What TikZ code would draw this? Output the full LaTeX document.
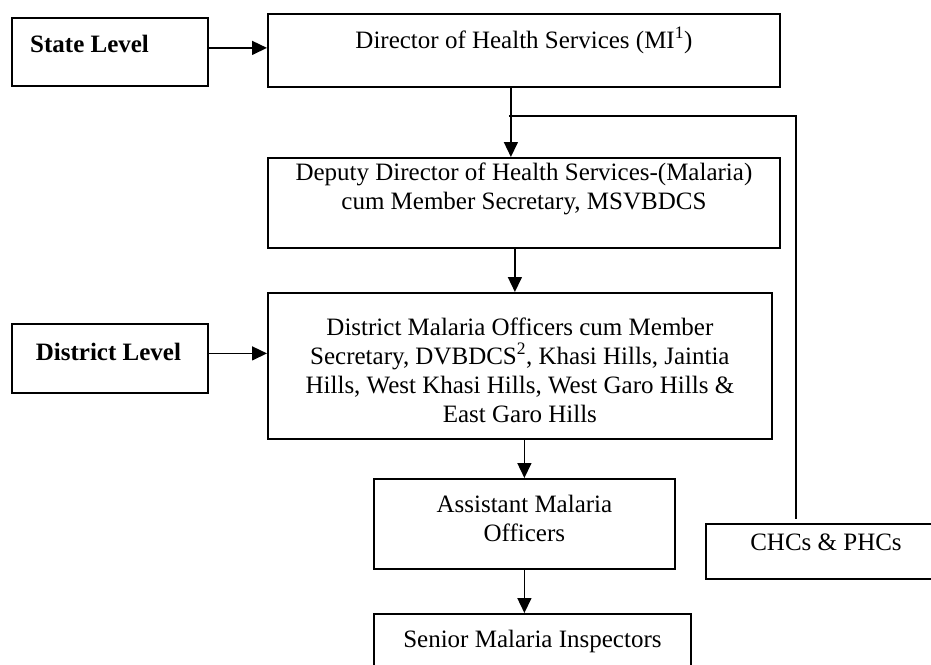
\documentclass[tikz,border=0pt]{standalone}
\usepackage{fontspec}
\setmainfont{Liberation Serif}
\usepackage{tikz}
\usetikzlibrary{arrows.meta, positioning}

\begin{document}
\begin{tikzpicture}[
    x=1pt, y=-1pt,
    box/.style={
        rectangle, draw=black, line width=1.8pt,
        inner sep=0pt, anchor=north west
    },
    txt/.style={
        inner sep=0pt, align=center, anchor=base,
        font=\fontsize{25}{29}\selectfont
    },
    arrow/.style={-{Triangle[length=15pt, width=14pt]}, line width=1.5pt},
    link/.style={line width=1.5pt},
]
\useasboundingbox (0,0) rectangle (931,664);

%% Livello statale
\node[box, minimum width=196pt, minimum height=68pt] (state) at (11,17) {};
\node[txt, anchor=base west, font=\fontsize{25}{29}\selectfont\bfseries]
    (statetxt) at ([xshift=19pt, yshift=-35pt]state.north west) {State Level};

\node[box, minimum width=512pt, minimum height=73pt] (director) at (267,13) {};
\node[txt] (directortxt) at ([yshift=-35pt]director.north)
    {Director of Health Services (MI\textsuperscript{1})};

%% base = ultima riga
\node[box, minimum width=512pt, minimum height=90pt] (deputy) at (267,157) {};
\node[txt] (deputytxt) at ([yshift=-52pt]deputy.north)
    {Deputy Director of Health Services-(Malaria)\\
     cum Member Secretary, MSVBDCS};

%% Livello distrettuale
\node[box, minimum width=196pt, minimum height=69pt] (distlevel) at (11,323) {};
\node[txt, font=\fontsize{25}{29}\selectfont\bfseries]
    (distleveltxt) at ([xshift=-1.5pt, yshift=-37pt]distlevel.north) {District Level};

\node[box, minimum width=504pt, minimum height=146pt] (district) at (267,292) {};
\node[txt] (districttxt) at ([yshift=-130pt]district.north)
    {District Malaria Officers cum Member\\
     Secretary, DVBDCS\textsuperscript{2}, Khasi Hills, Jaintia\\
     Hills, West Khasi Hills, West Garo Hills \&\\
     East Garo Hills};

\node[box, minimum width=301pt, minimum height=90pt] (assistant) at (373,478) {};
\node[txt] (assistanttxt) at ([yshift=-63pt]assistant.north)
    {Assistant Malaria\\ Officers};

\node[box, minimum width=317pt, minimum height=57pt] (senior) at (373,613) {};
\node[txt] (seniortxt) at ([yshift=-34pt]senior.north) {Senior Malaria Inspectors};

\node[box, minimum width=255pt, minimum height=55pt] (chcs) at (705,523) {};
\node[txt] (chcstxt) at ([xshift=121pt, yshift=-27pt]chcs.north west) {CHCs \& PHCs};

%% Frecce dai livelli
\draw[arrow] ([yshift=4pt]state.east) -- ([yshift=4pt]state.east -| director.west);
\draw[arrow] ([yshift=5pt]distlevel.east) -- ([yshift=5pt]distlevel.east -| district.west);

%% Catena verticale
\draw[arrow] ([xshift=-13pt]director.south) -- ([xshift=-13pt]director.south |- deputy.north);
\draw[arrow] ([xshift=-9pt]deputy.south) -- ([xshift=-9pt]deputy.south |- district.north);
\draw[arrow] (assistant.north |- district.south) -- (assistant.north);
\draw[arrow] (assistant.south) -- (assistant.south |- senior.north);

%% Ramo verso CHCs
\coordinate (split) at ([xshift=-15pt, yshift=-28pt]director.south);
\draw[link] (split) -| ([xshift=91pt, yshift=4pt]chcs.north west);

\end{tikzpicture}
\end{document}
